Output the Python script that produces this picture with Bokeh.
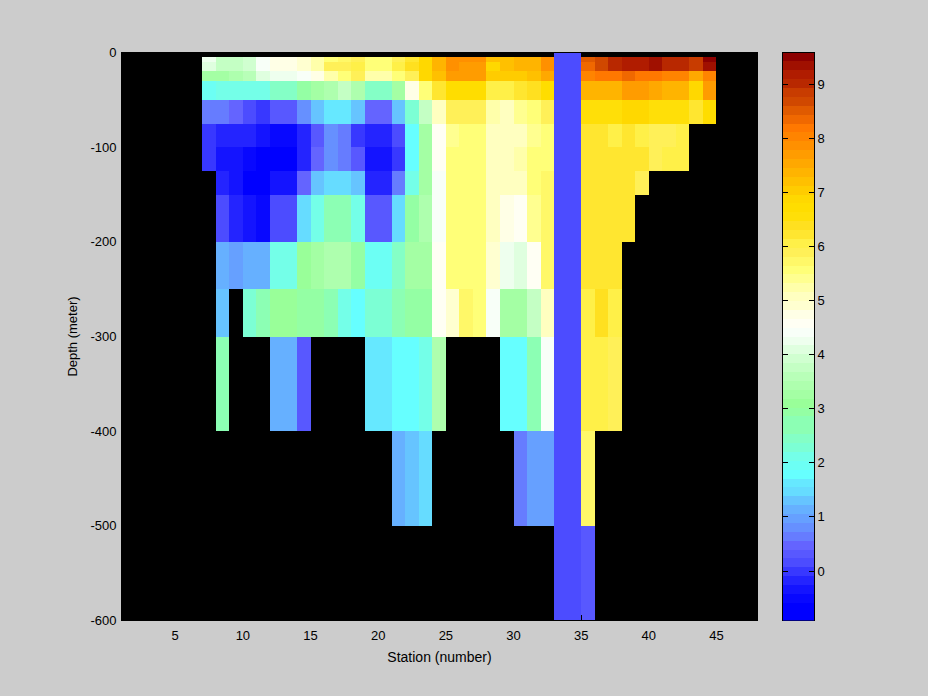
import numpy as np
from bokeh.embed import file_html
from bokeh.layouts import row
from bokeh.models import ColumnDataSource, FixedTicker, LinearAxis, LinearColorMapper, Range1d
from bokeh.plotting import figure
from bokeh.resources import INLINE
from bokeh.transform import transform

N = None
stations = list(range(7, 45))
depth_edges = [0, -5, -10, -20, -30, -50, -75, -100, -125, -150, -200, -250, -300, -400, -500, -600]

r_0_5 = [N]*26 + [.15, .15] + [N]*10
r_5_10 = [4.2,3.8,3.8,4.0,4.45,4.7,4.7,4.85,5.2,5.5,
          5.8,5.95,5.5,5.5,5.85,6.2,6.95,7.4,7.8,7.8,
          7.8,7.2,7.2,7.35,7.45,7.8,.15,.15,8.5,8.75,
          9.0,9.1,9.1,9.35,9.0,9.0,8.85,9.5]
r_10_20 = [4.05,3.75,3.75,4.0,4.4,4.7,4.7,4.95,5.25,5.85,
           5.85,6.0,5.55,5.55,6.0,6.4,6.9,7.35,7.8,7.7,
           7.7,6.9,7.2,7.4,7.4,7.9,.15,.15,8.4,8.75,
           9.0,9.1,9.1,9.4,8.95,8.95,8.9,9.4]
r_20_30 = [3.25,3.25,3.4,3.6,4.05,4.2,4.2,4.45,4.8,5.2,
           5.65,5.85,5.2,5.2,5.5,5.95,6.85,7.2,7.7,7.7,
           7.7,7.0,7.0,7.0,7.2,7.5,.15,.15,8.05,8.25,
           8.25,8.35,8.15,8.15,7.95,7.95,7.55,8.1]
r_30_50 = [1.9,2.05,2.05,2.05,2.2,2.5,2.5,2.95,3.2,3.5,
           3.7,3.45,2.45,2.45,3.3,4.7,5.6,6.2,6.75,6.75,
           6.75,6.05,6.05,6.3,6.4,6.75,.15,.15,7.4,7.4,
           7.4,7.7,7.7,7.55,7.35,7.35,6.95,7.7]
r_50_75 = [.65,.65,.45,.1,0,.25,.25,.8,1.3,1.6,
           1.6,1.3,.45,.45,1.3,2.35,3.75,5.1,5.85,5.95,
           5.95,5.2,5.0,5.4,5.55,5.85,.15,.15,6.5,6.5,
           6.5,6.8,6.8,6.5,6.5,6.5,6.25,6.7]
r_75_100 = [.05,-.1,-.1,-.25,-.4,-.55,-.55,-.25,.3,.8,
            .6,.05,-.25,-.25,.15,1.85,3.2,4.65,5.45,5.6,
            5.6,5.0,5.0,5.15,5.35,5.6,.15,.15,6.15,6.3,
            6.05,6.3,6.1,5.9,5.9,6.0,N,N]
r_100_125 = [-.05,-.3,-.35,-.55,-.75,-.75,-.75,-.25,.45,.8,
             .6,.25,-.4,-.4,.05,1.85,3.2,4.65,5.5,5.6,
             5.6,5.05,5.05,5.3,5.55,5.55,.15,.15,6.15,6.3,
             6.3,6.3,6.15,5.85,6.0,6.0,N,N]
r_125_150 = [N,-.2,-.35,-.7,-.7,-.4,-.4,.45,1.3,1.5,
             1.5,1.35,-.2,-.2,.65,2.2,3.2,4.35,5.5,5.6,
             5.6,5.05,5.05,5.05,5.5,5.7,.15,.15,6.15,6.3,
             6.3,6.25,5.85,N,N,N,N,N]
r_150_200 = [N,.1,-.1,-.4,-.55,.1,.1,1.5,2.15,2.55,
             2.55,2.2,.3,.3,1.5,3.0,3.4,4.35,5.55,5.6,
             5.6,5.0,4.8,4.65,5.45,5.7,.15,.15,6.25,6.3,
             6.3,6.25,N,N,N,N,N,N]
r_200_250 = [N,1.1,.95,1.1,1.1,2.2,2.2,3.05,3.2,3.5,
             3.5,3.0,2.0,2.0,2.5,3.2,3.3,4.6,5.5,5.6,
             5.6,4.95,4.3,4.1,4.6,5.75,.15,.15,6.3,6.3,
             6.3,N,N,N,N,N,N,N]
r_250_300 = [N,1.35,N,2.3,2.7,3.1,3.1,2.95,2.95,2.7,
             2.15,1.85,2.3,2.3,2.55,2.9,2.9,4.55,4.95,5.7,
             5.6,4.4,3.2,3.2,3.75,5.0,.15,.15,6.1,6.4,
             6.1,N,N,N,N,N,N,N]
r_300_400 = [N,2.75,N,N,N,1.1,1.1,.3,N,N,
             N,N,1.6,1.6,1.85,1.85,2.15,3.5,N,N,
             N,N,1.85,1.85,2.55,4.35,.15,.15,6.1,6.1,
             5.95,N,N,N,N,N,N,N]
r_400_500 = [N]*10 + [N,N,N,N,1.15,1.35,1.5,N,N,N,
             N,N,N,.65,.95,.95,.15,.15,5.75,N] + [N]*8
r_500_600 = [N]*26 + [.15, .15, .3] + [N]*9
rows_values = [r_0_5, r_5_10, r_10_20, r_20_30, r_30_50, r_50_75, r_75_100, r_100_125,
               r_125_150, r_150_200, r_200_250, r_250_300, r_300_400, r_400_500, r_500_600]

palette = ["#0000ff","#0000ff","#0808ff","#1414ff","#2424ff","#3838ff","#4c4cff","#5858ff",
           "#6464ff","#667cff","#6690ff","#66a0ff","#66b0ff","#66c4ff","#66dcff","#66e8ff",
           "#66ffff","#6cfff4","#74ffe8","#7cffd4","#84ffc6","#8cffb4","#8cffb4","#94ffa4",
           "#99ff99","#a4ffa4","#aeffae","#b8ffb8","#c4ffc4","#d0ffd0","#dfffdf","#eeffee",
           "#f8fff8","#fffff4","#ffffe6","#ffffd0","#ffffc0","#ffffaa","#ffff90","#ffff78",
           "#fff868","#fff058","#fff048","#ffe630","#ffe020","#ffdf08","#ffdd00","#ffd800",
           "#ffcc00","#ffc000","#ffb400","#ffa800","#ff9c00","#ff9000","#ff8400","#ff7800",
           "#f06800","#e05a00","#d04800","#c83c00","#b82800","#b01c00","#a01000","#8c0000"]
c_low, c_high = -0.915, 9.59
x_ticks = [5, 10, 15, 20, 25, 30, 35, 40, 45]
y_ticks = [0, -100, -200, -300, -400, -500, -600]
cb_ticks = [0, 1, 2, 3, 4, 5, 6, 7, 8, 9]

GREY = "#cccccc"
FONT = "Liberation Sans"
FS = "13px"
mapper = LinearColorMapper(palette=palette, low=c_low, high=c_high)

left, right, top, bottom, val = [], [], [], [], []
for i, r in enumerate(rows_values):
    for s, v in zip(stations, r):
        if v is not None:
            left.append(s); right.append(s + 1)
            top.append(depth_edges[i]); bottom.append(depth_edges[i + 1]); val.append(v)
src = ColumnDataSource(dict(left=left, right=right, top=top, bottom=bottom, val=val))

p = figure(width=770, height=696, frame_width=636, frame_height=568,
           min_border_left=121, min_border_right=13, min_border_top=52, min_border_bottom=76,
           x_range=Range1d(1.03, 48.03), y_range=Range1d(-600, 0),
           output_backend="svg", toolbar_location=None,
           background_fill_color="black", border_fill_color=GREY,
           outline_line_color="black")
p.quad(left="left", right="right", top="top", bottom="bottom", source=src,
       fill_color=transform("val", mapper), line_color=None)
p.grid.visible = False
for ax, ticks, label, lab_fs in ((p.xaxis[0], x_ticks, "Station (number)", "14px"),
                                 (p.yaxis[0], y_ticks, "Depth (meter)", "13px")):
    ax.ticker = FixedTicker(ticks=ticks)
    ax.axis_label = label
    ax.axis_label_text_font = FONT
    ax.axis_label_text_font_size = lab_fs
    ax.axis_label_text_font_style = "normal"
    ax.axis_label_text_color = "black"
    ax.major_label_text_font = FONT
    ax.major_label_text_font_size = FS
    ax.major_label_text_color = "black"
    ax.major_tick_in = 6
    ax.major_tick_out = 0
    ax.minor_tick_line_color = None
    ax.axis_line_color = "black"
    ax.major_tick_line_color = "black"
p.xaxis[0].major_label_standoff = 10
p.xaxis[0].axis_label_standoff = 6
p.yaxis[0].major_label_standoff = 5
p.yaxis[0].axis_label_standoff = 7
p.yaxis[0].major_label_overrides = {t: str(t) for t in y_ticks}

levels = np.linspace(c_low, c_high, len(palette) + 1)
cb_src = ColumnDataSource(dict(bottom=levels[:-1], top=levels[1:], color=palette))
cb = figure(width=158, height=696, frame_width=32, frame_height=568,
            min_border_left=12, min_border_right=114, min_border_top=52, min_border_bottom=76,
            x_range=Range1d(0, 1), y_range=Range1d(c_low, c_high),
            output_backend="svg", toolbar_location=None, y_axis_location="right",
            border_fill_color=GREY, outline_line_color="black")
cb.quad(left=0, right=1, bottom="bottom", top="top", fill_color="color", line_color=None, source=cb_src)
cb.grid.visible = False
cb.xaxis.visible = False
a = cb.yaxis[0]
a.ticker = FixedTicker(ticks=cb_ticks)
a.major_label_text_font = FONT
a.major_label_text_font_size = FS
a.major_label_text_color = "black"
a.major_tick_in = 6
a.major_tick_out = 0
a.minor_tick_line_color = None
a.major_label_standoff = 3
a.axis_line_color = "black"
a.major_tick_line_color = "black"
b = LinearAxis(ticker=FixedTicker(ticks=cb_ticks), major_label_text_color=None,
               major_label_text_font_size="1px", major_tick_in=5, major_tick_out=0,
               minor_tick_line_color=None, major_label_standoff=0)
cb.add_layout(b, "left")

layout = row(p, cb, spacing=0, styles={"position": "fixed", "left": "0px", "top": "0px",
                                       "background-color": GREY, "shape-rendering": "crispEdges"})
open("out.html", "w").write(file_html(layout, INLINE))
